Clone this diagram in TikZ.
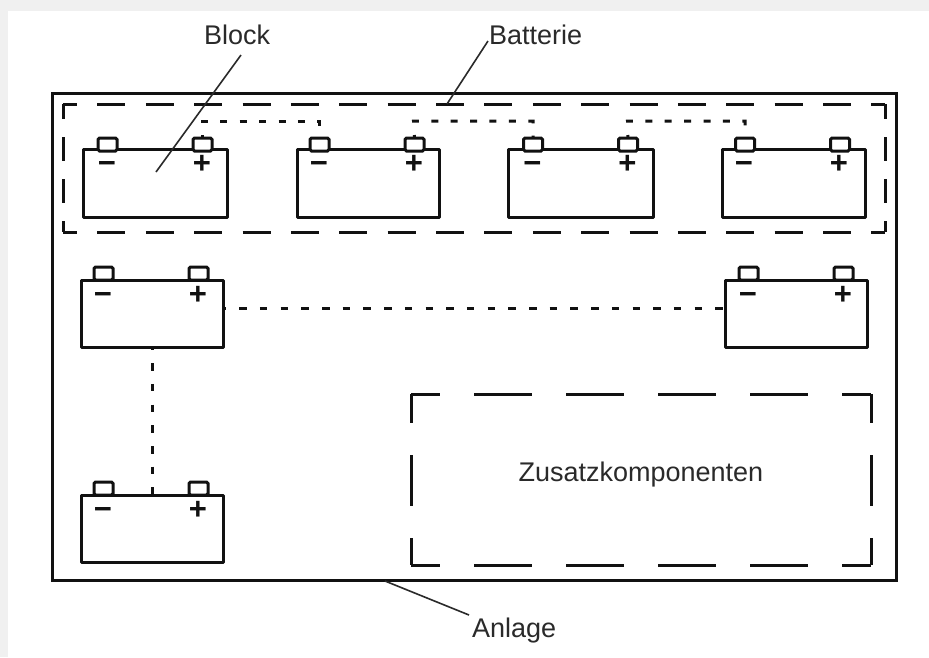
\documentclass[tikz,border=0pt]{standalone}
\usepackage{fontspec}
\setmainfont{Liberation Sans}
\definecolor{ink}{HTML}{111111}
\definecolor{txt}{HTML}{2A2A2A}
\definecolor{page}{HTML}{F0F0F0}
\tikzset{
  x=1pt,y=-1pt,
  line/.style={draw=ink,line width=3pt},
  batbox/.style={line,rectangle,inner sep=0pt,outer sep=0pt,fill=white,line join=round},
  term/.style={line,rectangle,inner sep=0pt,outer sep=0pt,fill=white,minimum width=19pt,minimum height=13pt,rounded corners=1.5pt},
  sign/.style={inner sep=0pt,outer sep=0pt,text=ink,font=\bfseries\fontsize{31}{31}\selectfont},
  label/.style={anchor=base west,inner sep=0pt,outer sep=0pt,text=txt,font=\fontsize{27}{32}\selectfont},
  leader/.style={draw=txt,line width=1.6pt},
  dots/.style={draw=ink,line width=3pt,dash pattern=on 7pt off 12.4pt,dash phase=4pt},
  dotsb/.style={draw=ink,line width=3pt,dash pattern=on 7.5pt off 13.2pt,dash phase=4.5pt},
  longdash/.style={draw=ink,line width=3pt,line cap=butt},
}
% name, left, right, top, bottom, terminal offset, terminal dy, sign offset
\newcommand{\batt}[8]{%
  \node[batbox,minimum width={#3-#2},minimum height={#5-#4}] (#1) at ({(#2+#3)/2},{(#4+#5)/2}) {};
  \node[term] (#1m) at ({#2+#6},{#4+#7}) {};
  \node[term] (#1p) at ({#2+#6+95},{#4+#7}) {};
  \node[sign] (#1ms) at ({#2+#8},{#4+18}) {−};
  \node[sign] (#1ps) at ({#2+#8+95},{#4+15}) {+};
}
\begin{document}
\begin{tikzpicture}
\useasboundingbox (0,0) rectangle (929,657);
\fill[page] (0,0) rectangle (929,657);
\fill[white] (8,11) rectangle (929,657);
% Anlage
\node[line,rectangle,inner sep=0pt,outer sep=0pt,minimum width=844pt,minimum height=487pt] (anlage) at (474,336.5) {};
% Batterie group
\node[inner sep=0pt,outer sep=0pt,minimum width=822pt,minimum height=128pt] (gruppe) at (474,168) {};
\draw[longdash,dash pattern=on 28pt off 20.375pt,dash phase=14pt] (gruppe.north west) -- (gruppe.north east);
\draw[longdash,dash pattern=on 28pt off 20.375pt,dash phase=14pt] (gruppe.south west) -- (gruppe.south east);
\draw[longdash,dash pattern=on 24pt off 18pt,dash phase=9pt] (gruppe.north west) -- (gruppe.south west);
\draw[longdash,dash pattern=on 24pt off 18pt,dash phase=9pt] (gruppe.north east) -- (gruppe.south east);
% Zusatzkomponenten group
\node[inner sep=0pt,outer sep=0pt,minimum width=460pt,minimum height=171pt] (zusatz) at (641,479.5) {};
\draw[longdash,dash pattern=on 58pt off 34pt,dash phase=29pt] (zusatz.north west) -- (zusatz.north east);
\draw[longdash,dash pattern=on 58pt off 34pt,dash phase=29pt] (zusatz.south west) -- (zusatz.south east);
\draw[longdash,dash pattern=on 51pt off 32pt,dash phase=22pt] (zusatz.north west) -- (zusatz.south west);
\draw[longdash,dash pattern=on 51pt off 32pt,dash phase=22pt] (zusatz.north east) -- (zusatz.south east);
% batteries
\batt{a}{83}{227}{149}{217}{24.5}{-4.5}{24}
\batt{b}{297}{439}{149}{217}{22.5}{-4.5}{22}
\batt{c}{508.5}{653}{149}{217}{24.5}{-4.5}{24}
\batt{d}{722}{865}{149}{217}{23}{-4.5}{22}
\batt{e}{81}{223}{280}{347}{22.5}{-6.5}{22}
\batt{f}{725}{867.5}{280}{347}{23.5}{-6.5}{23}
\batt{g}{81}{223}{495}{562}{22.5}{-6.5}{22}
% dotted connectors
\coordinate (ja) at (202.5,121);
\coordinate (jb) at (413.5,121);
\coordinate (jc) at (627.5,121);
\draw[dots] (ap.north) -- (ja) -| (bm.north);
\draw[dots] (bp.north) -- (jb) -| (cm.north);
\draw[dots] (cp.north) -- (jc) -| (dm.north);
\draw[dotsb] (e.east |- 0,308) -- (f.west |- 0,308);
\draw[dotsb] (152,347) -- (152,495);
% labels
\node[label] (lblock) at (204,44) {Block};
\node[label] (lbatt) at (489,44) {Batterie};
\node[label] (lzus) at (518.5,481) {Zusatzkomponenten};
\node[label] (lanl) at (472,637) {Anlage};
% leaders
\coordinate (kblock) at (241,55);
\coordinate (pblock) at (156,172);
\coordinate (kbatt) at (488,41);
\coordinate (pbatt) at (447,104);
\coordinate (kanl) at (469,615);
\coordinate (panl) at (385,581);
\draw[leader] (kblock) -- (pblock);
\draw[leader] (kbatt) -- (pbatt);
\draw[leader] (kanl) -- (panl);
\end{tikzpicture}
\end{document}
